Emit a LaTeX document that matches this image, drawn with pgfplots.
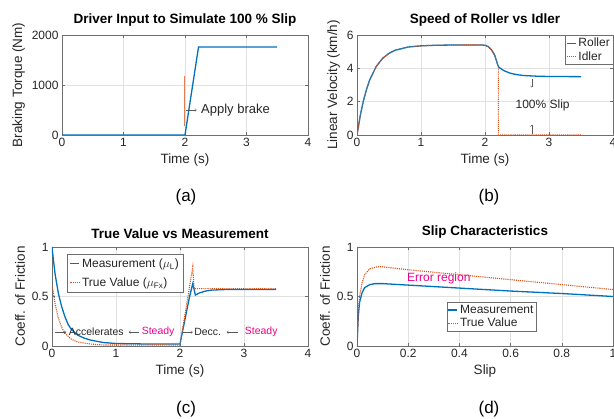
\documentclass[border=0pt]{standalone}
\usepackage{fontspec}
\setmainfont{Liberation Sans}
\usepackage{pgfplots}
\pgfplotsset{compat=1.18}
\usetikzlibrary{arrows.meta}
\definecolor{mblue}{RGB}{0,114,189}
\definecolor{morange}{RGB}{217,83,25}
\definecolor{mgrid}{RGB}{225,225,225}
\definecolor{maxis}{RGB}{110,110,110}
\definecolor{mtext}{RGB}{38,38,38}

\tikzset{ann/.style={-{To[length=2pt,width=3pt]},gray!70!black,line width=0.4pt}}
\pgfplotsset{
  mat/.style={
    scale only axis,
    grid=major,
    major grid style={mgrid,line width=0.5pt},
    axis line style={maxis,line width=0.6pt},
    tick align=inside,
    major tick length=3pt,
    tick style={maxis,line width=0.5pt},
    every tick label/.append style={font=\fontsize{12}{12}\selectfont,text=mtext},
    label style={font=\fontsize{13.5}{14}\selectfont,text=mtext},
    title style={font=\fontsize{13.5}{14}\selectfont\bfseries,yshift=-1pt},
    /pgf/number format/assume math mode=true,
    /pgf/number format/1000 sep={},
    legend style={font=\fontsize{12}{13}\selectfont,draw=maxis,fill=white,
      inner sep=1pt,row sep=-1pt,text=mtext},
    legend cell align=left,
    legend image code/.code={\draw[#1] (0pt,0pt) -- (9pt,0pt);},
  },
  bl/.style={mblue,line width=1.3pt},
  ol/.style={morange,line width=1.1pt,densely dotted},
}

\begin{document}
\begin{tikzpicture}
\path[use as bounding box] (0pt,0pt) rectangle (614pt,419pt);

% (a)
\begin{axis}[mat, at={(62pt,284pt)}, anchor=south west, width=246pt, height=100pt,
  xmin=0, xmax=4, ymin=0, ymax=2000, xtick={0,1,2,3,4}, ytick={0,1000,2000},
  title={Driver Input to Simulate 100 \% Slip},
  xlabel={Time (s)}, ylabel={Braking Torque (Nm)}]
\addplot[morange!75!white, line width=1.1pt] coordinates {(1.99,170) (1.99,1180)};
\addplot[bl] coordinates {(0,0) (2.0,0) (2.22,1760) (3.5,1760)};
\draw[ann] (axis cs:2.02,500) -- (axis cs:2.19,500);
\node[anchor=west, font=\fontsize{13}{13}\selectfont, text=mtext, inner sep=0pt] at (axis cs:2.26,500) {Apply brake};
\end{axis}

% (b)
\begin{axis}[mat, at={(357pt,284pt)}, anchor=south west, width=256pt, height=100pt,
  xmin=0, xmax=4, ymin=0, ymax=6, xtick={0,1,2,3,4}, ytick={0,2,4,6},
  title={Speed of Roller vs Idler},
  xlabel={Time (s)}, ylabel={Linear Velocity (km/h)},
  legend style={at={(1,1)}, anchor=north east}]
\addplot[bl] coordinates {(0,0) (0.05,1.14) (0.1,2.05) (0.15,2.75) (0.2,3.32) (0.3,4.11)
  (0.4,4.60) (0.5,4.90) (0.6,5.09) (0.8,5.28) (1.0,5.35) (1.2,5.38) (1.5,5.40) (1.95,5.40)
  (2.0,5.38) (2.05,5.30) (2.1,5.12) (2.15,4.80) (2.2,4.20) (2.22,4.05) (2.3,3.85)
  (2.4,3.70) (2.5,3.62) (2.6,3.57) (2.8,3.53) (3.0,3.51) (3.5,3.50)};
\addplot[ol] coordinates {(0,0) (0.05,1.14) (0.1,2.05) (0.15,2.75) (0.2,3.32) (0.3,4.11)
  (0.4,4.60) (0.5,4.90) (0.6,5.09) (0.8,5.28) (1.0,5.35) (1.2,5.38) (1.5,5.40) (1.95,5.40)
  (2.0,5.38) (2.05,5.30) (2.1,5.12) (2.15,4.80) (2.2,4.20) (2.21,4.12) (2.21,0) (3.5,0)};
\legend{Roller,Idler}
\draw[ann] (axis cs:2.73,3.35) -- (axis cs:2.73,2.85);
\draw[ann] (axis cs:2.73,0.05) -- (axis cs:2.73,0.6);
\node[font=\fontsize{12}{12}\selectfont, text=mtext] at (axis cs:2.9,1.8) {100\% Slip};
\end{axis}

% (c)
\begin{axis}[mat, at={(52pt,73pt)}, anchor=south west, width=256pt, height=99pt,
  xmin=0, xmax=4, ymin=0, ymax=1, xtick={0,1,2,3,4}, ytick={0,0.5,1},
  title={True Value vs Measurement},
  xlabel={Time (s)}, ylabel={Coeff. of Friction},
  legend style={at={(0.059,0.93)}, anchor=north west, row sep=5pt, inner sep=2.5pt}]
\addplot[bl] coordinates {(0,1.0) (0.02,0.88) (0.05,0.72) (0.1,0.53) (0.15,0.40) (0.2,0.30)
  (0.25,0.22) (0.3,0.17) (0.4,0.11) (0.5,0.08) (0.6,0.06) (0.8,0.035) (1.0,0.025) (1.5,0.02)
  (2.0,0.02) (2.15,0.50) (2.2,0.63) (2.24,0.515) (2.3,0.535) (2.4,0.555) (2.5,0.565)
  (2.7,0.57) (3.5,0.57)};
\addplot[ol] coordinates {(0,0.6) (0.02,0.55) (0.05,0.42) (0.1,0.28) (0.15,0.19) (0.2,0.13)
  (0.3,0.07) (0.4,0.04) (0.6,0.02) (0.8,0.01) (2.0,0.01) (2.2,0.8) (2.22,0.58) (3.5,0.58)};
\legend{Measurement ($\mu_{\mathrm{L}}$),True Value ($\mu_{\mathrm{Fx}}$)}
\draw[ann] (axis cs:0.05,0.14) -- (axis cs:0.22,0.14);
\node[anchor=west, font=\fontsize{10.5}{11}\selectfont, text=mtext, inner sep=0pt] at (axis cs:0.26,0.14) {Accelerates};
\draw[ann] (axis cs:1.36,0.14) -- (axis cs:1.2,0.14);
\node[anchor=west, font=\fontsize{10.5}{11}\selectfont, text=magenta, inner sep=0pt] at (axis cs:1.4,0.14) {Steady};
\draw[ann] (axis cs:2.05,0.14) -- (axis cs:2.2,0.14);
\node[anchor=west, font=\fontsize{10.5}{11}\selectfont, text=mtext, inner sep=0pt] at (axis cs:2.22,0.14) {Decc.};
\draw[ann] (axis cs:2.9,0.14) -- (axis cs:2.73,0.14);
\node[anchor=west, font=\fontsize{10.5}{11}\selectfont, text=magenta, inner sep=0pt] at (axis cs:3.01,0.14) {Steady};
\end{axis}

% (d)
\begin{axis}[mat, at={(357pt,73pt)}, anchor=south west, width=256pt, height=99pt,
  xmin=0, xmax=1, ymin=0, ymax=1, xtick={0,0.2,0.4,0.6,0.8,1}, ytick={0,0.5,1},
  title={Slip Characteristics},
  xlabel={Slip}, ylabel={Coeff. of Friction},
  legend style={at={(0.35,0.444)}, anchor=north west}]
\addplot[bl] coordinates {(0,0) (0.005,0.30) (0.01,0.44) (0.02,0.54) (0.03,0.59) (0.05,0.62)
  (0.07,0.63) (0.1,0.63) (0.2,0.615) (0.4,0.585) (0.6,0.555) (0.8,0.53) (1,0.50)};
\addplot[ol] coordinates {(0,0) (0.005,0.35) (0.01,0.50) (0.02,0.64) (0.03,0.72) (0.05,0.78)
  (0.08,0.80) (0.1,0.80) (0.2,0.77) (0.4,0.72) (0.6,0.67) (0.8,0.62) (1,0.57)};
\legend{Measurement,True Value}
\node[anchor=west, font=\fontsize{12}{12}\selectfont, text=magenta, inner sep=0pt] at (axis cs:0.195,0.68) {Error region};
\end{axis}

\node[font=\fontsize{17}{17}\selectfont] at (186pt,222pt) {(a)};
\node[font=\fontsize{17}{17}\selectfont] at (489pt,222pt) {(b)};
\node[font=\fontsize{17}{17}\selectfont] at (186pt,10pt) {(c)};
\node[font=\fontsize{17}{17}\selectfont] at (489pt,10pt) {(d)};
\end{tikzpicture}
\end{document}
